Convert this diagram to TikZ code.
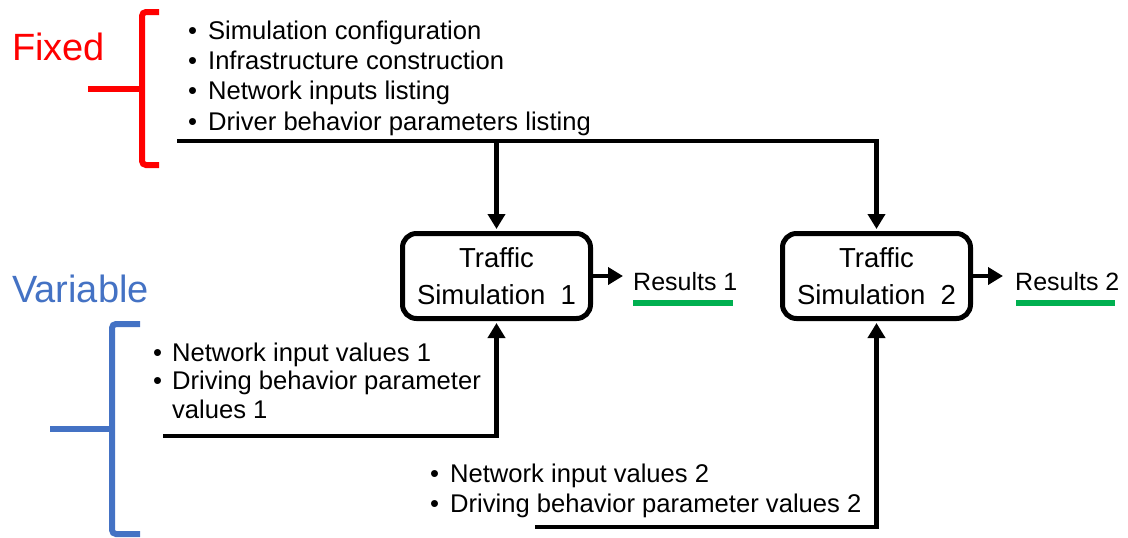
\documentclass[tikz,border=0pt]{standalone}
\usepackage{fontspec}
\setmainfont{Liberation Sans}
\usetikzlibrary{arrows.meta}
\definecolor{fixedred}{HTML}{FF0000}
\definecolor{varblue}{HTML}{4472C4}
\definecolor{resgreen}{HTML}{00B050}

\begin{document}
\begin{tikzpicture}[x=1pt,y=-1pt,
  txt/.style={inner sep=0pt, anchor=base west, font=\fontsize{25.6}{30.4}\selectfont},
  simbox/.style={draw, line width=5pt, rounded corners=14pt, minimum width=188pt,
    minimum height=85pt, align=center, inner sep=0pt, font=\fontsize{27.5}{37}\selectfont},
  flow/.style={line width=4.5pt, -{Triangle[length=15pt,width=17pt]}},
  bracket/.style={line width=6pt, rounded corners=4pt},
  tick/.style={line width=6pt},
  grouplabel/.style={inner sep=0pt, anchor=base west, font=\fontsize{38}{40}\selectfont},
  resbar/.style={line width=6pt, draw=resgreen}
]
\useasboundingbox (0,0) rectangle (1128,538);

% group labels
\node[grouplabel, text=fixedred] (fixedlbl) at (12,60) {Fixed};
\node[grouplabel, text=varblue] (varlbl) at (12,302) {Variable};

% brackets
\draw[bracket, draw=fixedred] (159,12) -- (142,12) -- (142,165) -- (159,165);
\draw[tick, draw=fixedred] (88,89) -- (142,89);
\draw[bracket, draw=varblue] (140,324) -- (112,324) -- (112,534) -- (140,534);
\draw[tick, draw=varblue] (50,429) -- (112,429);

% input lists
\node[txt] (fixedlist) at (188,39) {\begin{tabular}[t]{@{}l@{\hspace{11pt}}l@{}}
  •&Simulation configuration\\
  •&Infrastructure construction\\
  •&Network inputs listing\\
  •&Driver behavior parameters listing\end{tabular}};

\node[txt, font=\fontsize{25.6}{28.5}\selectfont] (var1list) at (153,361) {\begin{tabular}[t]{@{}l@{\hspace{10pt}}l@{}}
  •&Network input values 1\\
  •&Driving behavior parameter\\
   &values 1\end{tabular}};

\node[txt, font=\fontsize{25.6}{30}\selectfont] (var2list) at (430,482) {\begin{tabular}[t]{@{}l@{\hspace{11pt}}l@{}}
  •&Network input values 2\\
  •&Driving behavior parameter values 2\end{tabular}};

% simulation runs
\node[simbox] (sim1) at (496.5,276) {Traffic\\Simulation~~1};
\node[simbox] (sim2) at (876.5,276) {Traffic\\Simulation~~2};

% results
\node[txt, font=\fontsize{25}{30}\selectfont] (res1) at (633,290) {Results 1};
\node[txt, font=\fontsize{25}{30}\selectfont] (res2) at (1015,290) {Results 2};
\draw[resbar] (res1.base west) ++(0,13) -- ++(100,0);
\draw[resbar] (res2.base west) ++(1,13) -- ++(99,0);

% fixed inputs feed both runs
\coordinate (fstart) at (177,141);
\coordinate (fjoin) at (sim1.north |- fstart);
\coordinate (fcorner) at (sim2.north |- fstart);
\draw[flow, shorten >=2pt] (fstart) -- (fcorner) -- (sim2.north);
\draw[flow, shorten >=2pt] (fjoin) -- (sim1.north);

% variable inputs feed each run
\coordinate (v1start) at (163,436);
\coordinate (v2start) at (535,527);
\draw[flow, shorten >=2pt] (v1start) -| (sim1.south);
\draw[flow, shorten >=2pt] (v2start) -| (sim2.south);

% outputs
\draw[flow, shorten >=10pt] (sim1.east) -- (res1.west |- sim1.east);
\draw[flow, shorten >=12pt] (sim2.east) -- (res2.west |- sim2.east);
\end{tikzpicture}
\end{document}
